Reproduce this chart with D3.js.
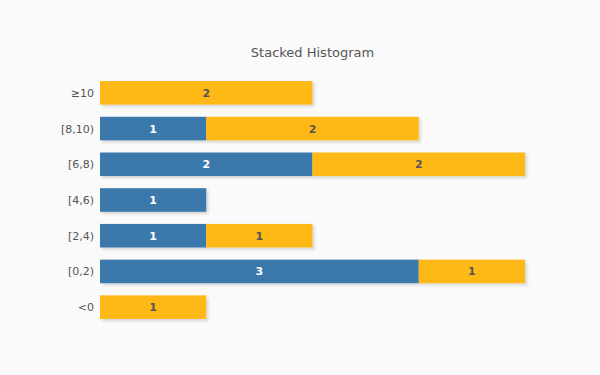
<!DOCTYPE html>
<html>
<head>
    <style>
        body { margin: 0; background: #fafafa; }
        svg { background: #fafafa; display: block; }
        .title { font-family: Verdana, "DejaVu Sans", sans-serif; font-size: 13px; fill: #555; }
        .cat { font-family: Verdana, "DejaVu Sans", sans-serif; font-size: 11px; fill: #555; }
        .val { font-family: Verdana, "DejaVu Sans", sans-serif; font-size: 11px; font-weight: bold; }
    </style>
    <script src="https://d3js.org/d3.v7.min.js"></script>
</head>
<body>
    <svg width="600" height="375"></svg>
    <script>
        const categories = ['≥10', '[8,10)', '[6,8)', '[4,6)', '[2,4)', '[0,2)', '<0'];
        const blueValues = [0, 1, 2, 1, 1, 3, 0];
        const yellowValues = [2, 2, 2, 0, 1, 1, 1];
        const seriesColors = ['#3a78ab', '#ffb914'];
        const labelColors = ['#ffffff', '#555555'];

        const svg = d3.select("svg");

        const defs = svg.append("defs");
        defs.append("filter").attr("id", "shadow")
            .attr("x", "-10%").attr("y", "-20%").attr("width", "130%").attr("height", "160%")
            .append("feDropShadow")
            .attr("dx", 2).attr("dy", 2).attr("stdDeviation", 1.5)
            .attr("flood-color", "#000").attr("flood-opacity", 0.15);

        const x = d3.scaleLinear().domain([0, 4]).range([100, 525]);
        const y = d3.scaleBand().domain(categories).range([75, 325])
            .paddingInner(0.34).paddingOuter(0.17);

        svg.append("text").attr("class", "title")
            .attr("x", 312.5).attr("y", 57).attr("text-anchor", "middle")
            .text("Stacked Histogram");

        // category labels
        svg.selectAll(".cat").data(categories).enter().append("text")
            .attr("class", "cat")
            .attr("x", 94)
            .attr("y", d => y(d) + y.bandwidth() / 2 + 4)
            .attr("text-anchor", "end")
            .text(d => d);

        const rows = categories.map((c, i) => ({ cat: c, blue: blueValues[i], yellow: yellowValues[i] }));
        const stack = d3.stack().keys(['blue', 'yellow'])(rows);

        stack.forEach((layer, k) => {
            const g = svg.append("g");
            const segs = layer.filter(d => d[1] - d[0] > 0);
            g.selectAll("rect").data(segs).enter().append("rect")
                .attr("x", d => x(d[0]))
                .attr("y", d => y(d.data.cat))
                .attr("width", d => x(d[1]) - x(d[0]))
                .attr("height", y.bandwidth())
                .attr("fill", seriesColors[k])
                .attr("filter", "url(#shadow)");
        });

        stack.forEach((layer, k) => {
            const segs = layer.filter(d => d[1] - d[0] > 0);
            svg.append("g").selectAll("text").data(segs).enter().append("text")
                .attr("class", "val")
                .attr("x", d => (x(d[0]) + x(d[1])) / 2)
                .attr("y", d => y(d.data.cat) + y.bandwidth() / 2 + 4)
                .attr("text-anchor", "middle")
                .attr("fill", labelColors[k])
                .text(d => d[1] - d[0]);
        });
    </script>
</body>
</html>
